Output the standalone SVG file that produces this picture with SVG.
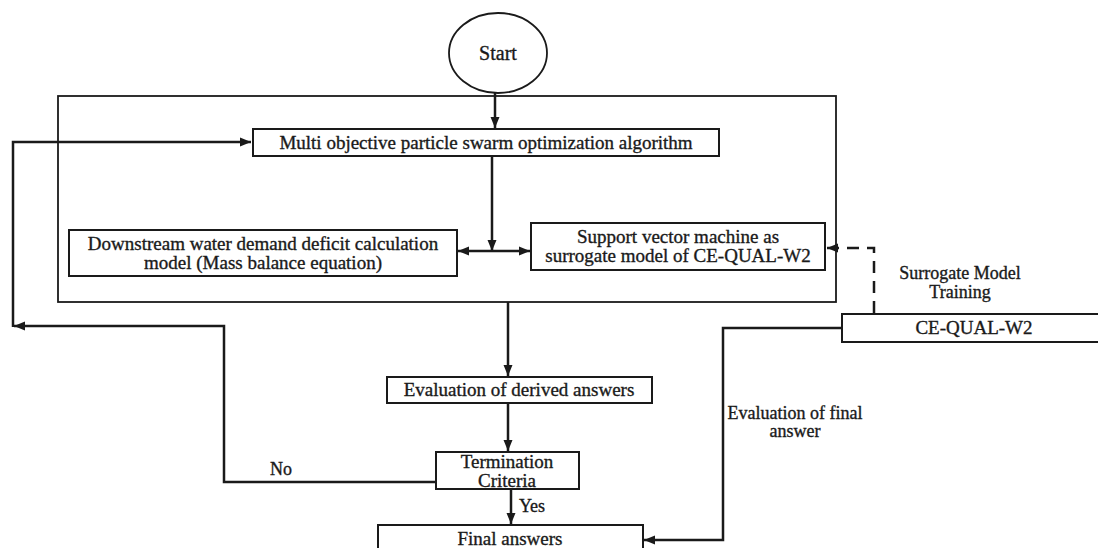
<svg xmlns="http://www.w3.org/2000/svg" width="1098" height="548" viewBox="0 0 1098 548">
<defs>
<style>
.t{font-family:"Liberation Serif","Times New Roman",serif;font-size:19px;fill:#1a1a1a;stroke:#1a1a1a;stroke-width:0.35;text-anchor:middle}
.box{fill:#fff;stroke:#1a1a1a;stroke-width:2}
.c{fill:none;stroke:#1a1a1a;stroke-width:2.5}
.d{fill:none;stroke:#1a1a1a;stroke-width:2.5;stroke-dasharray:12 8}
</style>
<marker id="ah" markerUnits="userSpaceOnUse" markerWidth="12" markerHeight="10" refX="11" refY="5" orient="auto">
<path d="M0,0.5 L11,5 L0,9.5 Z" fill="#1a1a1a"/>
</marker>
</defs>
<rect width="1098" height="548" fill="#fff"/>
<g id="container"><rect x="58" y="96" width="778" height="206" fill="none" stroke="#1a1a1a" stroke-width="1.8"/></g>
<g id="connectors">
<path class="c" d="M495,93 V128" marker-end="url(#ah)"/>
<path class="c" d="M492,156 V251" marker-end="url(#ah)"/>
<path class="c" d="M492,251 H458" marker-end="url(#ah)"/>
<path class="c" d="M492,251 H530" marker-end="url(#ah)"/>
<path class="c" d="M508,302 V376" marker-end="url(#ah)"/>
<path class="c" d="M508,404 V451" marker-end="url(#ah)"/>
<path class="c" d="M511,490 V524" marker-end="url(#ah)"/>
<path class="c" d="M436,482 H224 V326 H14" marker-end="url(#ah)"/>
<path class="c" d="M13,327 V142 H251" marker-end="url(#ah)"/>
<path class="c" d="M842,328 H723 V540 H644" marker-end="url(#ah)"/>
<path class="d" d="M874,313 V248 H827" marker-end="url(#ah)"/>
</g>
<g id="start"><ellipse cx="498" cy="53" rx="49" ry="40" fill="#fff" stroke="#1a1a1a" stroke-width="1.8"/><text class="t" x="498" y="60" style="font-size:20px">Start</text></g>
<g id="mopso"><rect class="box" x="253" y="129" width="466" height="27"/><text class="t" x="486" y="149">Multi objective particle swarm optimization algorithm</text></g>
<g id="downstream"><rect class="box" x="69" y="230" width="388" height="46"/><text class="t" x="263" y="250">Downstream water demand deficit calculation</text><text class="t" x="263" y="269">model (Mass balance equation)</text></g>
<g id="svm"><rect class="box" x="531" y="223" width="294" height="47"/><text class="t" x="678" y="243">Support vector machine as</text><text class="t" x="678" y="262">surrogate model of CE-QUAL-W2</text></g>
<g id="cequal"><rect class="box" x="842" y="314" width="258" height="28"/><text class="t" x="974" y="334">CE-QUAL-W2</text></g>
<g id="eval"><rect class="box" x="387" y="377" width="265" height="26"/><text class="t" x="519" y="396">Evaluation of derived answers</text></g>
<g id="term"><rect class="box" x="436" y="452" width="143" height="37"/><text class="t" x="507" y="468">Termination</text><text class="t" x="507" y="487">Criteria</text></g>
<g id="final"><rect class="box" x="378" y="525" width="265" height="30"/><text class="t" x="510" y="545">Final answers</text></g>
<g id="labels">
<text class="t" x="960" y="279" style="font-size:18px">Surrogate Model</text>
<text class="t" x="960" y="298" style="font-size:18px">Training</text>
<text class="t" x="795" y="419" style="font-size:18px">Evaluation of final</text>
<text class="t" x="795" y="437" style="font-size:18px">answer</text>
<text class="t" x="281" y="475" style="font-size:18px">No</text>
<text class="t" x="532" y="512" style="font-size:18px">Yes</text>
</g>
</svg>
